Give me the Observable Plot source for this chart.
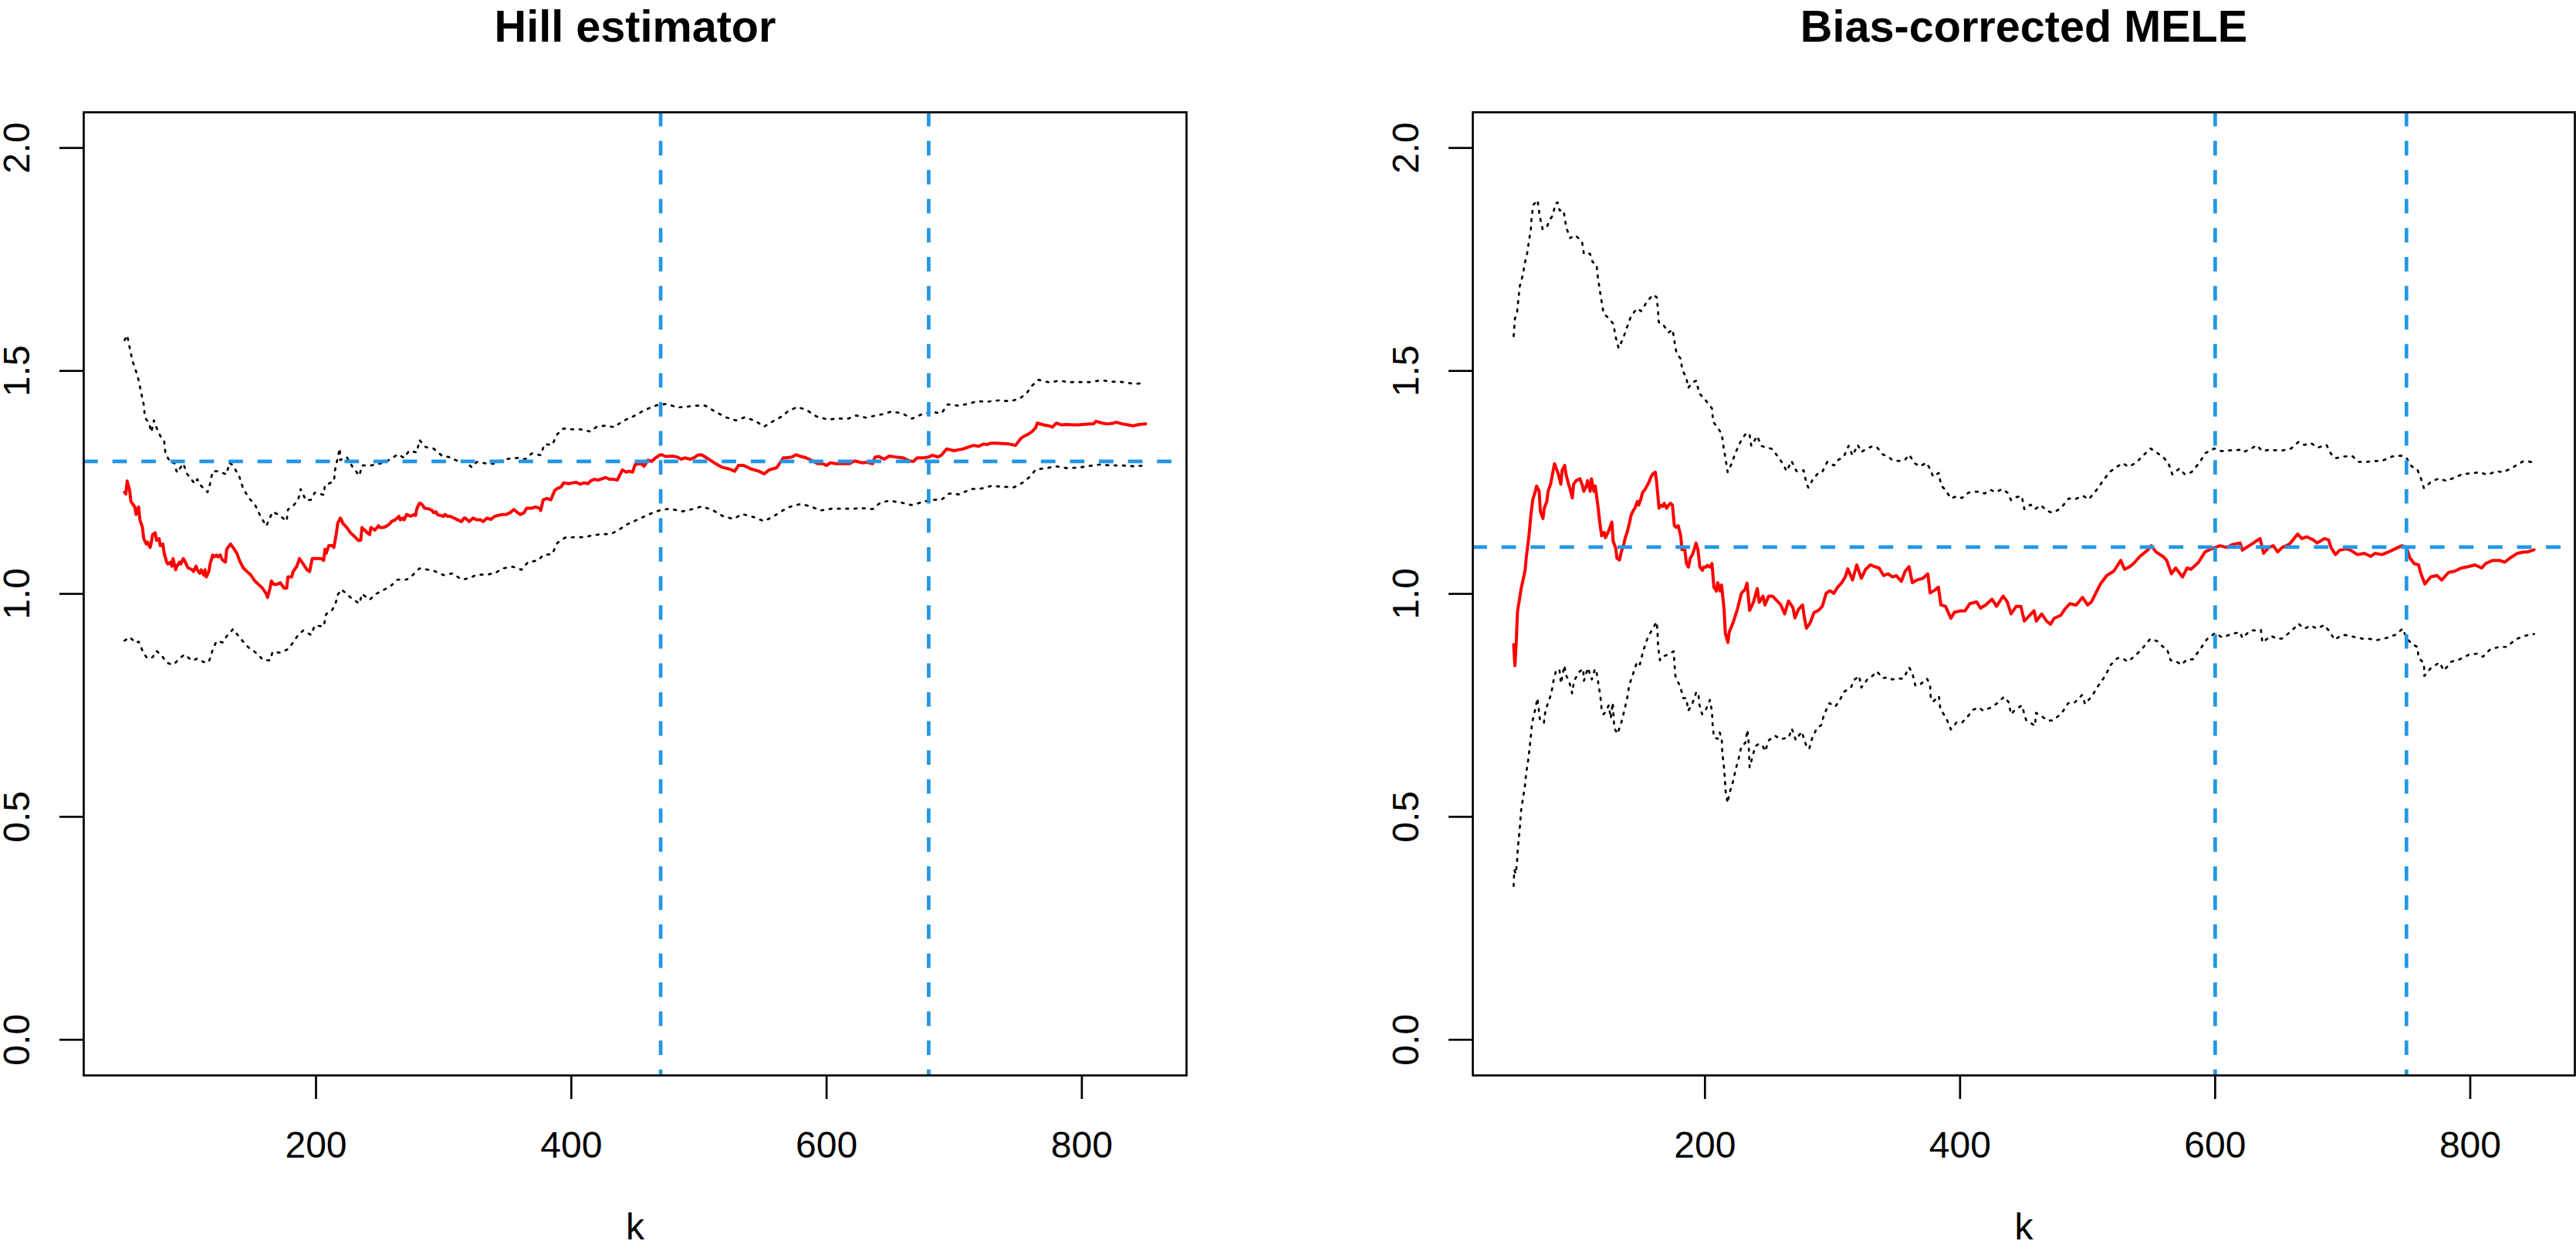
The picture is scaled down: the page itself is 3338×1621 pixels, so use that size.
<!DOCTYPE html>
<html>
<head>
<meta charset="utf-8">
<title>Hill estimator vs Bias-corrected MELE</title>
<script src="https://cdn.jsdelivr.net/npm/d3@7"></script>
<script src="https://cdn.jsdelivr.net/npm/@observablehq/plot@0.6"></script>
<style>
  html, body { margin: 0; padding: 0; background: white; overflow: hidden; }
  #wrap { display: flex; width: 3338px; height: 1621px; }
  #wrap svg { display: block; max-width: none; }
</style>
</head>
<body>
<div id="wrap"></div>
<script>
// ---------- data: [k, value] ----------
const hillEst = [[50,1.228],[51,1.224],[52,1.253],[54,1.232],[55,1.207],[57,1.199],[58,1.195],[59,1.178],[61,1.195],[62,1.166],[64,1.149],[65,1.124],[67,1.112],[68,1.116],[70,1.104],[71,1.116],[72,1.133],[74,1.137],[75,1.120],[77,1.124],[78,1.108],[80,1.112],[81,1.091],[83,1.071],[84,1.067],[86,1.071],[87,1.062],[88,1.079],[90,1.054],[91,1.062],[93,1.071],[94,1.067],[96,1.079],[97,1.075],[99,1.062],[100,1.058],[103,1.054],[104,1.050],[106,1.062],[107,1.054],[109,1.046],[110,1.054],[112,1.042],[113,1.054],[114,1.038],[116,1.050],[117,1.067],[119,1.087],[120,1.083],[122,1.087],[123,1.083],[125,1.087],[126,1.079],[127,1.075],[129,1.071],[130,1.100],[132,1.108],[133,1.112],[135,1.104],[138,1.091],[140,1.075],[143,1.058],[146,1.050],[149,1.042],[152,1.029],[155,1.021],[158,1.013],[161,1.000],[162,0.992],[164,1.013],[165,1.029],[167,1.021],[169,1.021],[172,1.025],[175,1.013],[177,1.013],[178,1.038],[181,1.038],[182,1.050],[184,1.058],[185,1.062],[187,1.079],[188,1.075],[190,1.067],[193,1.054],[195,1.050],[197,1.079],[198,1.079],[201,1.079],[204,1.079],[206,1.075],[207,1.100],[208,1.091],[210,1.108],[213,1.108],[214,1.104],[216,1.137],[217,1.158],[219,1.170],[220,1.166],[221,1.158],[224,1.149],[227,1.137],[230,1.129],[233,1.120],[235,1.120],[236,1.149],[237,1.145],[239,1.141],[240,1.137],[242,1.133],[243,1.149],[245,1.145],[246,1.143],[248,1.149],[249,1.153],[250,1.149],[253,1.149],[256,1.153],[258,1.158],[259,1.162],[262,1.166],[265,1.174],[266,1.166],[268,1.170],[269,1.166],[271,1.178],[274,1.174],[277,1.178],[278,1.176],[279,1.191],[281,1.203],[282,1.203],[284,1.197],[285,1.192],[288,1.191],[291,1.187],[292,1.182],[294,1.184],[295,1.178],[297,1.176],[300,1.174],[301,1.178],[303,1.174],[305,1.174],[308,1.170],[311,1.166],[314,1.162],[316,1.170],[317,1.170],[320,1.162],[323,1.170],[326,1.166],[329,1.166],[331,1.162],[334,1.170],[337,1.167],[340,1.174],[343,1.176],[346,1.178],[349,1.178],[352,1.182],[355,1.189],[358,1.182],[360,1.178],[363,1.182],[365,1.192],[369,1.192],[372,1.195],[375,1.192],[376,1.187],[378,1.211],[381,1.214],[384,1.211],[387,1.232],[389,1.236],[392,1.240],[394,1.249],[398,1.247],[401,1.249],[404,1.250],[407,1.246],[410,1.249],[413,1.247],[415,1.253],[418,1.257],[421,1.255],[424,1.258],[427,1.261],[430,1.257],[433,1.257],[436,1.255],[440,1.278],[443,1.273],[445,1.275],[448,1.273],[450,1.290],[453,1.292],[456,1.290],[457,1.286],[460,1.300],[463,1.297],[466,1.305],[469,1.311],[471,1.312],[474,1.308],[479,1.309],[483,1.307],[486,1.302],[489,1.305],[493,1.302],[496,1.305],[499,1.311],[502,1.312],[506,1.305],[512,1.294],[518,1.284],[524,1.280],[528,1.275],[531,1.288],[535,1.288],[541,1.280],[547,1.275],[551,1.269],[555,1.278],[561,1.283],[566,1.305],[568,1.305],[573,1.307],[576,1.312],[580,1.308],[584,1.305],[589,1.298],[593,1.292],[597,1.292],[600,1.288],[603,1.294],[607,1.292],[613,1.292],[618,1.292],[622,1.298],[625,1.296],[628,1.294],[632,1.295],[636,1.292],[638,1.307],[641,1.308],[645,1.302],[649,1.309],[654,1.307],[660,1.305],[665,1.298],[668,1.297],[671,1.305],[676,1.305],[680,1.307],[683,1.311],[687,1.307],[690,1.311],[694,1.325],[700,1.321],[703,1.323],[707,1.325],[712,1.330],[715,1.333],[719,1.331],[723,1.336],[726,1.335],[729,1.338],[733,1.338],[738,1.337],[743,1.336],[748,1.333],[752,1.348],[755,1.354],[758,1.358],[761,1.364],[764,1.373],[765,1.383],[770,1.379],[774,1.377],[777,1.374],[780,1.383],[784,1.379],[788,1.380],[793,1.379],[797,1.379],[801,1.380],[806,1.381],[809,1.381],[811,1.387],[816,1.383],[820,1.381],[825,1.383],[827,1.385],[832,1.381],[836,1.379],[840,1.377],[845,1.380],[850,1.381]];

const hillUpper = [[50,1.569],[52,1.580],[54,1.552],[56,1.524],[59,1.499],[61,1.479],[63,1.451],[65,1.424],[66,1.395],[69,1.384],[71,1.363],[73,1.389],[75,1.373],[78,1.354],[81,1.343],[82,1.315],[86,1.294],[89,1.294],[91,1.272],[96,1.292],[99,1.269],[105,1.247],[107,1.257],[110,1.242],[115,1.228],[117,1.247],[119,1.275],[123,1.275],[130,1.268],[132,1.294],[135,1.288],[140,1.262],[143,1.235],[148,1.213],[152,1.201],[156,1.177],[161,1.152],[166,1.184],[171,1.177],[177,1.163],[178,1.189],[182,1.197],[186,1.211],[188,1.235],[192,1.210],[196,1.211],[199,1.227],[206,1.222],[207,1.244],[214,1.252],[215,1.279],[218.6,1.326],[219,1.300],[224,1.307],[229,1.283],[234,1.265],[236,1.288],[243,1.288],[253,1.294],[259,1.303],[264,1.313],[269,1.305],[273,1.321],[279,1.317],[281,1.345],[286,1.329],[292,1.326],[299,1.309],[304,1.307],[311,1.298],[316,1.298],[322,1.284],[326,1.296],[334,1.292],[340,1.292],[346,1.300],[351,1.303],[358,1.305],[364,1.302],[369,1.315],[376,1.311],[379,1.336],[385,1.334],[389,1.358],[394,1.371],[401,1.369],[407,1.369],[415,1.364],[420,1.375],[426,1.377],[434,1.374],[437,1.381],[443,1.391],[450,1.400],[456,1.410],[463,1.419],[468,1.424],[475,1.426],[483,1.418],[491,1.420],[498,1.422],[505,1.422],[513,1.408],[522,1.395],[529,1.389],[536,1.396],[544,1.388],[551,1.375],[558,1.387],[565,1.398],[570,1.410],[577,1.419],[584,1.413],[592,1.398],[601,1.391],[609,1.393],[617,1.393],[623,1.400],[631,1.395],[637,1.399],[644,1.403],[651,1.409],[659,1.405],[667,1.393],[674,1.402],[682,1.408],[690,1.405],[695,1.425],[703,1.422],[711,1.426],[718,1.432],[726,1.431],[735,1.434],[743,1.432],[751,1.437],[757,1.451],[761,1.467],[766,1.480],[775,1.474],[782,1.478],[790,1.475],[799,1.475],[807,1.475],[815,1.479],[824,1.476],[832,1.475],[841,1.471],[850,1.473]];

const hillLower = [[50,0.895],[54,0.903],[59,0.890],[61,0.893],[65,0.866],[68,0.855],[72,0.858],[75,0.872],[79,0.862],[83,0.846],[87,0.841],[90,0.846],[93,0.855],[97,0.864],[103,0.850],[107,0.855],[112,0.847],[116,0.847],[119,0.874],[122,0.894],[127,0.891],[130,0.905],[135,0.921],[141,0.899],[147,0.880],[152,0.870],[159,0.851],[164,0.851],[166,0.870],[172,0.868],[178,0.876],[182,0.891],[186,0.908],[190,0.918],[196,0.908],[199,0.929],[206,0.927],[208,0.955],[212,0.961],[215,0.975],[217,0.998],[220,1.010],[227,0.992],[234,0.978],[236,1.000],[242,0.987],[247,1.000],[252,1.007],[259,1.019],[264,1.032],[271,1.032],[275,1.040],[281,1.057],[286,1.055],[292,1.052],[300,1.042],[307,1.046],[314,1.032],[320,1.035],[326,1.043],[333,1.043],[340,1.046],[346,1.057],[354,1.061],[361,1.054],[366,1.071],[374,1.075],[378,1.087],[385,1.089],[389,1.114],[395,1.126],[402,1.127],[410,1.127],[416,1.131],[424,1.134],[431,1.134],[438,1.145],[443,1.155],[450,1.164],[456,1.172],[463,1.181],[469,1.187],[477,1.191],[487,1.185],[495,1.190],[502,1.196],[510,1.189],[519,1.174],[527,1.168],[534,1.179],[543,1.172],[551,1.163],[558,1.173],[565,1.186],[571,1.195],[579,1.201],[587,1.197],[595,1.187],[604,1.191],[613,1.191],[621,1.191],[629,1.192],[636,1.190],[642,1.204],[649,1.209],[658,1.205],[667,1.199],[674,1.205],[682,1.211],[690,1.211],[696,1.225],[704,1.223],[713,1.235],[721,1.236],[729,1.242],[739,1.240],[747,1.239],[754,1.250],[759,1.262],[764,1.279],[772,1.282],[780,1.286],[788,1.282],[797,1.283],[806,1.287],[814,1.290],[823,1.288],[832,1.288],[841,1.286],[850,1.288]];

const meleEst = [[50,0.886],[51,0.839],[52,0.888],[53,0.960],[56,1.013],[59,1.053],[60,1.084],[62,1.130],[63.5,1.176],[65,1.211],[67,1.230],[68,1.242],[70,1.230],[71,1.184],[73,1.169],[74,1.192],[76,1.207],[77,1.230],[79,1.246],[80.5,1.269],[82,1.292],[83.5,1.281],[85,1.269],[87,1.246],[88,1.277],[90,1.288],[91,1.269],[93,1.246],[94,1.238],[96,1.215],[97,1.246],[99,1.254],[102,1.258],[104,1.242],[105,1.230],[107,1.242],[108,1.254],[110,1.230],[111,1.258],[113,1.230],[114,1.242],[116,1.199],[117.5,1.161],[119,1.130],[121,1.138],[122,1.126],[124,1.138],[125,1.145],[127,1.161],[128,1.118],[130,1.103],[131,1.080],[133,1.076],[134.5,1.095],[136,1.107],[137.5,1.126],[139,1.138],[141,1.161],[142,1.176],[144,1.188],[145,1.192],[147,1.207],[148,1.199],[150,1.215],[151,1.227],[153,1.234],[154.5,1.242],[156,1.250],[157.5,1.261],[159,1.269],[161,1.273],[162,1.254],[164,1.192],[165,1.199],[167,1.196],[168,1.203],[170,1.192],[171.5,1.199],[173,1.203],[174.5,1.199],[176,1.153],[177.5,1.149],[179,1.153],[181,1.130],[182,1.099],[184,1.103],[185.5,1.068],[187,1.060],[188.5,1.080],[190,1.087],[191.5,1.099],[193,1.114],[194.5,1.099],[196,1.060],[198,1.053],[199,1.060],[201,1.060],[202,1.064],[204,1.060],[205.5,1.068],[207,1.015],[209,1.006],[210,1.025],[212,1.006],[213,1.020],[215,0.965],[216,0.911],[218,0.891],[219,0.914],[222,0.935],[225.5,0.966],[228.5,1.001],[231.5,1.010],[233,1.024],[235,0.963],[238,0.981],[241,1.012],[242.5,0.981],[245.5,0.995],[247,0.975],[250,0.995],[253,0.995],[256,0.986],[259.5,0.975],[262.5,0.955],[265.5,0.984],[269,0.969],[270.5,0.946],[273.5,0.966],[276.5,0.975],[278,0.946],[279.5,0.923],[282.5,0.935],[285.5,0.958],[289,0.963],[292,0.972],[295,1.001],[298,1.007],[301,1.001],[304,1.015],[307,1.024],[310,1.038],[312,1.056],[315.7,1.031],[319,1.065],[322.6,1.035],[326,1.055],[329.6,1.065],[333,1.061],[336.5,1.058],[340,1.041],[343.5,1.045],[347,1.038],[350,1.041],[354,1.028],[357,1.051],[360,1.061],[362.6,1.025],[366,1.031],[371,1.035],[374.7,1.045],[376.5,1.002],[380,1.008],[383,1.015],[385,0.975],[388.6,0.972],[392.8,0.945],[395.6,0.959],[400.8,0.962],[404,0.962],[407.7,0.978],[413,0.982],[416,0.968],[420,0.975],[425,0.988],[428.6,0.972],[433.8,0.995],[437,0.982],[440,0.955],[444,0.972],[447.7,0.972],[450.4,0.939],[454.6,0.952],[458,0.962],[459.8,0.939],[464,0.955],[467.8,0.939],[471,0.932],[473.7,0.945],[479,0.952],[482,0.965],[486,0.978],[491,0.975],[496,0.992],[500,0.975],[503,0.982],[510,1.022],[515,1.041],[520.6,1.051],[526,1.075],[529,1.055],[533,1.061],[536,1.068],[541,1.084],[547,1.098],[550,1.108],[553.6,1.094],[559,1.084],[562,1.075],[565.7,1.045],[569,1.058],[574.4,1.038],[578,1.058],[581,1.055],[587,1.071],[592,1.094],[597,1.101],[600,1.104],[604,1.108],[609,1.104],[614,1.111],[619.6,1.114],[621.3,1.098],[626.6,1.108],[630,1.114],[633.5,1.121],[635.2,1.124],[638,1.091],[642,1.104],[645.6,1.108],[649,1.094],[652.6,1.104],[658,1.111],[661,1.121],[664.7,1.134],[668,1.124],[671.7,1.128],[677,1.121],[680,1.114],[685.6,1.124],[689,1.121],[690.8,1.104],[694.3,1.088],[697.7,1.098],[703,1.101],[706,1.098],[711.6,1.088],[717,1.091],[722,1.084],[725.5,1.091],[730.7,1.088],[736,1.094],[741,1.101],[746.4,1.108],[750,1.104],[752.6,1.081],[756,1.068],[759.5,1.065],[761,1.048],[764.4,1.022],[769,1.038],[774,1.041],[777.6,1.031],[783,1.048],[788,1.051],[793,1.058],[798.5,1.061],[803.7,1.065],[809,1.058],[812,1.068],[817.6,1.075],[823,1.075],[827,1.071],[831.5,1.081],[837,1.091],[842,1.094],[845,1.094],[850,1.099]];

const meleUpper = [[50,1.578],[51,1.617],[52.7,1.632],[54.8,1.690],[57.3,1.716],[58.8,1.742],[60.4,1.760],[61.9,1.789],[63.5,1.818],[64.1,1.846],[65.6,1.873],[68.7,1.883],[70.6,1.845],[72.7,1.818],[75.8,1.821],[78.3,1.839],[80.5,1.848],[82.9,1.875],[84.5,1.878],[86,1.860],[89.1,1.860],[91.3,1.821],[94.3,1.798],[98.4,1.804],[103.6,1.790],[105.1,1.762],[109.8,1.763],[112,1.744],[115,1.738],[116,1.711],[117.5,1.682],[119,1.655],[120.6,1.628],[124.3,1.619],[128.3,1.605],[129.8,1.578],[132.3,1.551],[136,1.574],[139.1,1.600],[142.2,1.624],[146.8,1.640],[149.9,1.634],[154.5,1.655],[159.2,1.671],[162.2,1.665],[163.2,1.636],[163.8,1.609],[166.9,1.605],[171.5,1.586],[174.6,1.593],[176.1,1.566],[177.7,1.539],[180.8,1.528],[182.3,1.502],[185.4,1.485],[186.9,1.462],[190,1.474],[193.1,1.478],[195.6,1.449],[199.3,1.439],[202.4,1.427],[205.5,1.416],[206.4,1.386],[210.1,1.372],[213.2,1.358],[214.7,1.327],[216.3,1.300],[217.8,1.273],[220.9,1.292],[224,1.317],[228,1.342],[231.7,1.358],[234.8,1.360],[236.3,1.332],[241,1.354],[244.1,1.332],[247.1,1.329],[252.7,1.325],[257.9,1.305],[261,1.292],[264.1,1.275],[267.8,1.298],[271.8,1.275],[277.4,1.277],[279.6,1.247],[281.1,1.238],[284.2,1.255],[288.8,1.271],[291.9,1.273],[295.9,1.296],[301.2,1.288],[304.3,1.300],[308.9,1.308],[312.6,1.332],[315.7,1.310],[319.8,1.334],[322.6,1.318],[326.8,1.326],[331.3,1.331],[334.8,1.329],[339.3,1.313],[343.5,1.308],[346.9,1.300],[352.2,1.298],[356.7,1.300],[360.1,1.312],[364.3,1.293],[368.5,1.286],[373.7,1.294],[376.5,1.280],[378.9,1.263],[383.4,1.271],[385.1,1.243],[388.6,1.233],[392.8,1.214],[397.3,1.219],[401.5,1.215],[406.7,1.227],[411.2,1.229],[415.7,1.229],[419.2,1.225],[424,1.233],[427.9,1.228],[433.1,1.235],[437.2,1.227],[440,1.210],[444.2,1.217],[448.4,1.219],[450.4,1.190],[455.3,1.200],[458.8,1.190],[463.3,1.199],[467.8,1.187],[472,1.182],[476.1,1.187],[479.6,1.194],[485.2,1.214],[490,1.212],[496.3,1.220],[500.8,1.212],[506,1.229],[511.2,1.250],[517.1,1.273],[523,1.285],[527.5,1.293],[532.1,1.285],[538,1.294],[543.5,1.310],[549.4,1.326],[554.6,1.316],[558.8,1.308],[563.3,1.294],[566.4,1.268],[572,1.281],[576.2,1.268],[581.4,1.273],[587.3,1.293],[592.5,1.316],[599.4,1.326],[605,1.320],[612.6,1.322],[619.6,1.323],[622.4,1.318],[628.3,1.326],[632.8,1.333],[637,1.320],[642.2,1.323],[647.4,1.322],[651.9,1.321],[659.5,1.326],[665.4,1.341],[669.9,1.334],[675.2,1.338],[680.4,1.328],[687.3,1.334],[690.8,1.314],[694.3,1.304],[700.5,1.308],[707.5,1.309],[712.7,1.296],[718.6,1.296],[724.8,1.298],[730.7,1.298],[738.7,1.308],[745.7,1.310],[749.8,1.306],[754,1.286],[758.5,1.279],[761.3,1.259],[763.7,1.237],[770,1.253],[775.9,1.259],[781.1,1.253],[787,1.260],[794.3,1.269],[801.2,1.270],[807.1,1.273],[813.4,1.267],[820.3,1.275],[826.2,1.273],[834.2,1.285],[841.9,1.298],[850,1.295]];

const meleLower = [[50,0.345],[50.5,0.381],[51.7,0.372],[52.7,0.401],[53.3,0.430],[54.2,0.457],[55.1,0.485],[55.8,0.513],[57.3,0.541],[58.8,0.568],[59.8,0.597],[61.3,0.625],[62.5,0.653],[63.5,0.681],[64.4,0.710],[66.6,0.737],[68.7,0.766],[70.6,0.718],[73.7,0.710],[74.9,0.738],[76.7,0.753],[79.5,0.776],[81.1,0.803],[83.5,0.831],[86,0.828],[87.2,0.799],[89.7,0.839],[91.3,0.816],[93.4,0.805],[95.9,0.777],[97.4,0.805],[101.4,0.825],[104.5,0.832],[105.1,0.805],[108.2,0.834],[111.3,0.808],[113.8,0.832],[115,0.824],[116.6,0.796],[118.1,0.768],[119,0.740],[120.6,0.730],[122.1,0.736],[124.6,0.750],[126.1,0.721],[127.7,0.756],[128.9,0.699],[131.4,0.686],[134.5,0.712],[136.9,0.740],[139.1,0.767],[140.6,0.795],[143.7,0.821],[146.8,0.848],[149,0.842],[151.4,0.870],[154.5,0.897],[158.5,0.920],[162.2,0.937],[162.9,0.909],[163.2,0.883],[164.7,0.851],[166.9,0.860],[169.4,0.862],[172.4,0.866],[175.5,0.871],[176.1,0.843],[176.8,0.816],[178.6,0.804],[180.8,0.791],[182.9,0.766],[185.4,0.766],[186.9,0.738],[190,0.753],[193.1,0.779],[194.7,0.779],[195.6,0.752],[197.8,0.730],[200.8,0.741],[203.9,0.762],[205.5,0.736],[206,0.708],[207,0.678],[210.1,0.675],[211.6,0.689],[213.2,0.672],[213.6,0.644],[214.7,0.617],[215.2,0.602],[215.6,0.583],[216.3,0.554],[217.8,0.531],[218.8,0.549],[221.8,0.577],[224,0.605],[226.5,0.632],[228.6,0.658],[231.7,0.666],[233.3,0.695],[234.2,0.669],[234.6,0.640],[235,0.611],[237.3,0.635],[239.4,0.658],[241.9,0.663],[245,0.661],[247.1,0.647],[250.2,0.672],[254.9,0.682],[258.9,0.674],[262.6,0.676],[265.7,0.678],[268.1,0.698],[271.2,0.672],[275.8,0.691],[279.6,0.658],[281.7,0.652],[284.2,0.678],[288.2,0.701],[291,0.705],[293.5,0.730],[297.5,0.755],[302.1,0.747],[305.2,0.759],[308.9,0.780],[314.4,0.790],[317.4,0.808],[320.9,0.816],[322.6,0.790],[327.8,0.810],[331.3,0.816],[334.8,0.826],[339.3,0.811],[343.5,0.813],[346.9,0.808],[351.1,0.810],[355.6,0.810],[360.1,0.835],[362.6,0.822],[365,0.794],[368.5,0.796],[374,0.810],[376.5,0.796],[377,0.769],[378.9,0.758],[383.4,0.771],[384.5,0.743],[389.3,0.720],[392.8,0.696],[397.3,0.712],[401.8,0.712],[406,0.725],[410.2,0.740],[414.7,0.745],[418.1,0.738],[424,0.745],[429.3,0.755],[434.5,0.769],[437.9,0.758],[440,0.730],[442.8,0.739],[448.4,0.750],[451.8,0.717],[458.8,0.704],[459.5,0.733],[464.3,0.725],[468.5,0.716],[472.7,0.716],[479.6,0.732],[484.8,0.755],[489.3,0.755],[495.6,0.773],[498,0.753],[503.2,0.770],[508.4,0.794],[513.7,0.816],[518.2,0.841],[523.4,0.856],[527.5,0.855],[531.7,0.848],[538,0.863],[543.9,0.881],[549.1,0.899],[554.6,0.894],[558.8,0.882],[562.3,0.876],[565.1,0.851],[569.9,0.848],[573.4,0.841],[577.9,0.853],[582.4,0.853],[588.3,0.876],[593.5,0.898],[599.8,0.912],[605.7,0.902],[612.6,0.910],[619.6,0.914],[621.3,0.901],[627.6,0.918],[631.7,0.918],[635.9,0.919],[637,0.891],[643.9,0.906],[648.4,0.899],[652.6,0.900],[659.5,0.916],[665.4,0.933],[669.9,0.922],[675.2,0.929],[679.7,0.922],[685.6,0.930],[690.1,0.914],[693.6,0.897],[699.5,0.908],[704,0.907],[710.9,0.902],[716.8,0.899],[721.4,0.899],[726.6,0.896],[734.2,0.901],[741.1,0.908],[747.1,0.922],[749.8,0.902],[754,0.888],[758.5,0.881],[759.5,0.857],[763.7,0.844],[764,0.816],[768.9,0.833],[775.9,0.846],[779.3,0.828],[785.3,0.848],[791.5,0.853],[798.5,0.863],[805.4,0.866],[809.9,0.859],[815.8,0.876],[822.8,0.881],[828.7,0.881],[835.6,0.898],[842.9,0.906],[850,0.910]];

const panelTitles = ["Hill estimator", "Bias-corrected MELE"];
const hillKLines = [470, 680];
const hillRefLevel = [1.297];
const meleKLines = [600, 750];
const meleRefLevel = [1.105];
const xTicks = [200, 400, 600, 800];
const yTicks = [0, 0.5, 1, 1.5, 2];
const xLabel = "k";

// ---------- drawing ----------
const BLUE = "#2297E6";
const FONT = '"Liberation Sans", Arial, Helvetica, sans-serif';

function rows(pairs) { return pairs.map(([k, v]) => ({k, v})); }

function panel({title, est, upper, lower, kLines, refLevel, marginLeft, marginRight}) {
  const dotted = {x: "k", y: "v", stroke: "black", strokeWidth: 2.7, strokeDasharray: "2.7,8.1"};
  const dashed = {stroke: BLUE, strokeWidth: 4.7, strokeDasharray: "18.8,18.8"};
  return Plot.plot({
    width: 1669,
    height: 1621,
    marginTop: 145,
    marginBottom: 228,
    marginLeft,
    marginRight,
    style: {fontFamily: FONT, color: "black", background: "white", overflow: "visible"},
    x: {domain: [18, 882]},
    y: {domain: [-0.08, 2.08]},
    marks: [
      Plot.line(rows(est), {x: "k", y: "v", stroke: "#FF0000", strokeWidth: 4, strokeLinejoin: "round"}),
      Plot.line(rows(upper), dotted),
      Plot.line(rows(lower), dotted),
      Plot.ruleX(kLines, dashed),
      Plot.ruleY(refLevel, dashed),
      Plot.frame({stroke: "black", strokeWidth: 2.7}),
      Plot.axisX(xTicks, {tickSize: 31, tickPadding: 41, strokeWidth: 2.7, fontSize: 48, label: null, fill: "black"}),
      Plot.axisY(yTicks, {tickSize: 31, tickPadding: 40, tickRotate: -90, strokeWidth: 2.7, fontSize: 48, label: null, fill: "black", tickFormat: d => d.toFixed(1)}),
      Plot.text([title], {text: d => d, frameAnchor: "top", dy: -92, lineAnchor: "bottom", fontSize: 57.6, fontWeight: "bold", fill: "black"}),
      Plot.text([xLabel], {text: d => d, frameAnchor: "bottom", dy: 212, lineAnchor: "bottom", fontSize: 48, fill: "black"})
    ]
  });
}

const wrap = document.getElementById("wrap");
wrap.appendChild(panel({title: panelTitles[0], est: hillEst, upper: hillUpper, lower: hillLower, kLines: hillKLines, refLevel: hillRefLevel, marginLeft: 108, marginRight: 132}));
wrap.appendChild(panel({title: panelTitles[1], est: meleEst, upper: meleUpper, lower: meleLower, kLines: meleKLines, refLevel: meleRefLevel, marginLeft: 239, marginRight: 2}));
</script>
</body>
</html>
